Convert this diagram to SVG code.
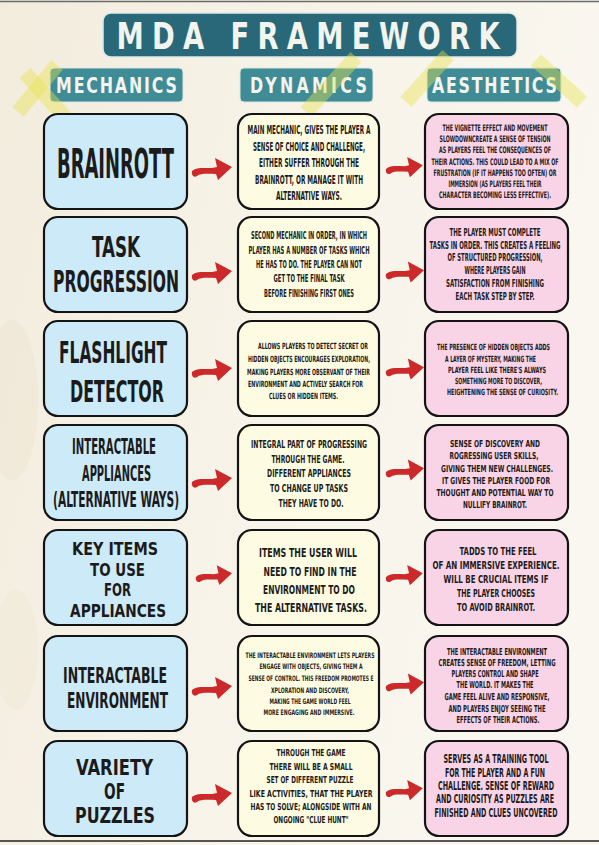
<svg xmlns="http://www.w3.org/2000/svg" width="599" height="845" viewBox="0 0 599 845">
<style>
.mech{fill:#cdeaf8;stroke:#141414;stroke-width:2.2}
.dyn{fill:#fdfce2;stroke:#141414;stroke-width:2.2}
.aes{fill:#f9d3e6;stroke:#141414;stroke-width:2.2}
.hdr{fill:#3f8c96;stroke:#d9e6e4;stroke-width:1}
text{font-family:"DejaVu Sans Condensed","DejaVu Sans","Liberation Sans",sans-serif;font-weight:bold;fill:#1b1b1b}
.c{text-anchor:middle}
.l{text-anchor:start}
.ht{fill:#f3f4ee;text-anchor:middle}
.arr{fill:#cc2a2a}
.ylw{stroke:#e6e24c;stroke-opacity:0.42;stroke-width:15;fill:none}
</style>
<defs>
<linearGradient id="paper" x1="0" y1="0" x2="1" y2="0.3">
<stop offset="0" stop-color="#f2ecdd"/>
<stop offset="0.5" stop-color="#f7f3e8"/>
<stop offset="1" stop-color="#faf7f0"/>
</linearGradient>
<path id="arrow" class="arr" d="M0,1 C4,-3 12,-2 20,-2 L25,-3 L23,-12 L40,-3 L26,10 L24,4 C16,4 9,3 5,6 C2,8 -1,5 0,1 Z"/>
</defs>
<rect x="0" y="0" width="599" height="845" fill="url(#paper)"/>
<ellipse cx="12" cy="400" rx="26" ry="80" fill="#e6dcc4" opacity="0.25"/>
<ellipse cx="16" cy="650" rx="22" ry="60" fill="#e6dcc4" opacity="0.18"/>
<line x1="0" y1="1.5" x2="599" y2="1.5" stroke="#6a6a6a" stroke-width="1.5"/>
<line x1="0" y1="841" x2="599" y2="841" stroke="#222" stroke-width="1.5"/>

<g id="title">
<rect x="103" y="13" width="414" height="44" rx="8" fill="#296878" stroke="#dfe9e7" stroke-width="1.5"/>
<g transform="translate(308,0) scale(0.8,1)"><text class="ht" x="0" y="49" font-size="38" textLength="479" lengthAdjust="spacing">MDA FRAMEWORK</text></g>
</g>
<g id="header-mechanics">
<rect class="hdr" x="50" y="68" width="133" height="34" rx="4"/>
<g transform="translate(116.5,0) scale(0.8,1)"><text class="ht" x="0" y="93" font-size="22" textLength="151" lengthAdjust="spacing">MECHANICS</text></g>
</g>
<g id="header-dynamics">
<rect class="hdr" x="240" y="68" width="133" height="34" rx="4"/>
<g transform="translate(308.5,0) scale(0.8,1)"><text class="ht" x="0" y="93" font-size="22" textLength="146" lengthAdjust="spacing">DYNAMICS</text></g>
</g>
<g id="header-aesthetics">
<rect class="hdr" x="427" y="68" width="134" height="34" rx="4"/>
<g transform="translate(494.5,0) scale(0.8,1)"><text class="ht" x="0" y="93" font-size="22" textLength="156" lengthAdjust="spacing">AESTHETICS</text></g>
</g>
<g id="yellow-marks">
<line class="ylw" x1="18" y1="112" x2="57" y2="65"/>
<line class="ylw" x1="25" y1="73" x2="65" y2="117"/>
<line class="ylw" x1="306" y1="112" x2="356" y2="57"/>
<line class="ylw" x1="406" y1="102" x2="448" y2="55"/>
<line class="ylw" x1="536" y1="60" x2="582" y2="102"/>
</g>

<!-- Row 1 -->
<g id="m1"><rect class="mech" x="44" y="114" width="143" height="95" rx="14"/>
<g transform="translate(115.5,0) scale(0.5,1)"><text class="c" x="0" y="178" font-size="40" textLength="234" lengthAdjust="spacingAndGlyphs">BRAINROTT</text></g></g>
<g id="d1"><rect class="dyn" x="238" y="114" width="141" height="95" rx="14"/>
<g transform="translate(309,0) scale(0.55,1)" font-size="12">
<text class="c" x="0" y="134" textLength="223.6" lengthAdjust="spacingAndGlyphs">MAIN MECHANIC, GIVES THE PLAYER A</text>
<text class="c" x="0" y="151" textLength="203.6" lengthAdjust="spacingAndGlyphs">SENSE OF CHOICE AND CHALLENGE,</text>
<text class="c" x="0" y="167" textLength="181.8" lengthAdjust="spacingAndGlyphs">EITHER SUFFER THROUGH THE</text>
<text class="c" x="0" y="184" textLength="196.4" lengthAdjust="spacingAndGlyphs">BRAINROTT, OR MANAGE IT WITH</text>
<text class="c" x="0" y="200" textLength="120" lengthAdjust="spacingAndGlyphs">ALTERNATIVE WAYS.</text>
</g></g>
<g id="a1"><rect class="aes" x="425" y="114" width="143" height="95" rx="14"/>
<g transform="translate(495,0) scale(0.55,1)" font-size="9">
<text class="c" x="0" y="131" textLength="190.9" lengthAdjust="spacingAndGlyphs">THE VIGNETTE EFFECT AND MOVEMENT</text>
<text class="c" x="0" y="142" textLength="201.8" lengthAdjust="spacingAndGlyphs">SLOWDOWNCREATE A SENSE OF TENSION</text>
<text class="c" x="0" y="153" textLength="203.6" lengthAdjust="spacingAndGlyphs">AS PLAYERS FEEL THE CONSEQUENCES OF</text>
<text class="c" x="0" y="165" textLength="230.9" lengthAdjust="spacingAndGlyphs">THEIR ACTIONS. THIS COULD LEAD TO A MIX OF</text>
<text class="c" x="0" y="176" textLength="223.6" lengthAdjust="spacingAndGlyphs">FRUSTRATION (IF IT HAPPENS TOO OFTEN) OR</text>
<text class="c" x="0" y="187" textLength="169.1" lengthAdjust="spacingAndGlyphs">IMMERSION (AS PLAYERS FEEL THEIR</text>
<text class="c" x="0" y="198" textLength="203.6" lengthAdjust="spacingAndGlyphs">CHARACTER BECOMING LESS EFFECTIVE).</text>
</g></g>

<!-- Row 2 -->
<g id="m2"><rect class="mech" x="44" y="217" width="143" height="95" rx="14"/>
<g transform="translate(116,0) scale(0.5,1)">
<text class="c" x="0" y="257" font-size="29" textLength="96" lengthAdjust="spacingAndGlyphs">TASK</text>
<text class="c" x="0" y="292" font-size="30" textLength="252" lengthAdjust="spacingAndGlyphs">PROGRESSION</text></g></g>
<g id="d2"><rect class="dyn" x="238" y="217" width="141" height="95" rx="14"/>
<g transform="translate(309,0) scale(0.55,1)" font-size="10">
<text class="c" x="0" y="239" textLength="210.9" lengthAdjust="spacingAndGlyphs">SECOND MECHANIC IN ORDER, IN WHICH</text>
<text class="c" x="0" y="254" textLength="220" lengthAdjust="spacingAndGlyphs">PLAYER HAS A NUMBER OF TASKS WHICH</text>
<text class="c" x="0" y="268" textLength="192.7" lengthAdjust="spacingAndGlyphs">HE HAS TO DO. THE PLAYER CAN NOT</text>
<text class="c" x="0" y="282" textLength="129.1" lengthAdjust="spacingAndGlyphs">GET TO THE FINAL TASK</text>
<text class="c" x="0" y="297" textLength="163.6" lengthAdjust="spacingAndGlyphs">BEFORE FINISHING FIRST ONES</text>
</g></g>
<g id="a2"><rect class="aes" x="425" y="217" width="143" height="95" rx="14"/>
<g transform="translate(495,0) scale(0.55,1)" font-size="10">
<text class="c" x="0" y="236" textLength="165.5" lengthAdjust="spacingAndGlyphs">THE PLAYER MUST COMPLETE</text>
<text class="c" x="0" y="249" textLength="238.2" lengthAdjust="spacingAndGlyphs">TASKS IN ORDER. THIS CREATES A FEELING</text>
<text class="c" x="0" y="261" textLength="172.7" lengthAdjust="spacingAndGlyphs">OF STRUCTURED PROGRESSION,</text>
<text class="c" x="0" y="274" textLength="110.9" lengthAdjust="spacingAndGlyphs">WHERE PLAYERS GAIN</text>
<text class="c" x="0" y="287" textLength="178.2" lengthAdjust="spacingAndGlyphs">SATISFACTION FROM FINISHING</text>
<text class="c" x="0" y="300" textLength="143.6" lengthAdjust="spacingAndGlyphs">EACH TASK STEP BY STEP.</text>
</g></g>

<!-- Row 3 -->
<g id="m3"><rect class="mech" x="44" y="321" width="143" height="95" rx="14"/>
<g transform="translate(113,0) scale(0.5,1)"><text class="c" x="0" y="363" font-size="31" textLength="216" lengthAdjust="spacingAndGlyphs">FLASHLIGHT</text></g>
<g transform="translate(117,0) scale(0.5,1)"><text class="c" x="0" y="402" font-size="31" textLength="188" lengthAdjust="spacingAndGlyphs">DETECTOR</text></g></g>
<g id="d3"><rect class="dyn" x="238" y="321" width="141" height="95" rx="14"/>
<g transform="translate(247,0) scale(0.55,1)" font-size="8.5">
<text class="l" x="20" y="349" textLength="200" lengthAdjust="spacingAndGlyphs">ALLOWS PLAYERS TO DETECT SECRET OR</text>
<text class="l" x="1.8" y="362" textLength="221.8" lengthAdjust="spacingAndGlyphs">HIDDEN OBJECTS ENCOURAGES EXPLORATION,</text>
<text class="l" x="0" y="375" textLength="223.6" lengthAdjust="spacingAndGlyphs">MAKING PLAYERS MORE OBSERVANT OF THEIR</text>
<text class="l" x="1.8" y="387" textLength="209.1" lengthAdjust="spacingAndGlyphs">ENVIRONMENT AND ACTIVELY SEARCH FOR</text>
<text class="l" x="40" y="399" textLength="125.5" lengthAdjust="spacingAndGlyphs">CLUES OR HIDDEN ITEMS.</text>
</g></g>
<g id="a3"><rect class="aes" x="425" y="321" width="143" height="95" rx="14"/>
<g transform="translate(437,0) scale(0.55,1)" font-size="8.5">
<text class="l" x="0" y="350" textLength="205.5" lengthAdjust="spacingAndGlyphs">THE PRESENCE OF HIDDEN OBJECTS ADDS</text>
<text class="l" x="14.5" y="362" textLength="165.5" lengthAdjust="spacingAndGlyphs">A LAYER OF MYSTERY, MAKING THE</text>
<text class="l" x="20" y="373" textLength="178.2" lengthAdjust="spacingAndGlyphs">PLAYER FEEL LIKE THERE'S ALWAYS</text>
<text class="l" x="32.7" y="384" textLength="158.2" lengthAdjust="spacingAndGlyphs">SOMETHING MORE TO DISCOVER,</text>
<text class="l" x="18.2" y="395" textLength="201.8" lengthAdjust="spacingAndGlyphs">HEIGHTENING THE SENSE OF CURIOSITY.</text>
</g></g>

<!-- Row 4 -->
<g id="m4"><rect class="mech" x="44" y="425" width="143" height="95" rx="14"/>
<g transform="translate(115,0) scale(0.5,1)" font-size="20.5">
<text class="c" x="-2" y="454" textLength="168" lengthAdjust="spacingAndGlyphs">INTERACTABLE</text>
<text class="c" x="3" y="481" textLength="138" lengthAdjust="spacingAndGlyphs">APPLIANCES</text>
<text class="c" x="2" y="507" textLength="252" lengthAdjust="spacingAndGlyphs">(ALTERNATIVE WAYS)</text></g></g>
<g id="d4"><rect class="dyn" x="238" y="425" width="141" height="95" rx="14"/>
<g transform="translate(309,0) scale(0.55,1)" font-size="10">
<text class="c" x="0" y="448" textLength="210.9" lengthAdjust="spacingAndGlyphs">INTEGRAL PART OF PROGRESSING</text>
<text class="c" x="-1.8" y="463" textLength="132.7" lengthAdjust="spacingAndGlyphs">THROUGH THE GAME.</text>
<text class="c" x="0" y="477" textLength="152.7" lengthAdjust="spacingAndGlyphs">DIFFERENT APPLIANCES</text>
<text class="c" x="0" y="492" textLength="141.8" lengthAdjust="spacingAndGlyphs">TO CHANGE UP TASKS</text>
<text class="c" x="3.6" y="507" textLength="118.2" lengthAdjust="spacingAndGlyphs">THEY HAVE TO DO.</text>
</g></g>
<g id="a4"><rect class="aes" x="425" y="425" width="143" height="95" rx="14"/>
<g transform="translate(495,0) scale(0.55,1)" font-size="9.5">
<text class="c" x="0" y="447" textLength="163.6" lengthAdjust="spacingAndGlyphs">SENSE OF DISCOVERY AND</text>
<text class="c" x="-1.8" y="459" textLength="161.8" lengthAdjust="spacingAndGlyphs">ROGRESSING USER SKILLS,</text>
<text class="c" x="3.6" y="472" textLength="203.6" lengthAdjust="spacingAndGlyphs">GIVING THEM NEW CHALLENGES.</text>
<text class="c" x="1.8" y="484" textLength="196.4" lengthAdjust="spacingAndGlyphs">IT GIVES THE PLAYER FOOD FOR</text>
<text class="c" x="0" y="496" textLength="212.7" lengthAdjust="spacingAndGlyphs">THOUGHT AND POTENTIAL WAY TO</text>
<text class="c" x="0" y="508" textLength="116.4" lengthAdjust="spacingAndGlyphs">NULLIFY BRAINROT.</text>
</g></g>

<!-- Row 5 -->
<g id="m5"><rect class="mech" x="44" y="530" width="143" height="95" rx="14"/>
<g transform="translate(116,0) scale(0.75,1)" font-size="17.5">
<text class="c" x="-1.3" y="555" textLength="114.7" lengthAdjust="spacingAndGlyphs">KEY ITEMS</text>
<text class="c" x="2" y="576" textLength="73.3" lengthAdjust="spacingAndGlyphs">TO USE</text>
<text class="c" x="2" y="596" textLength="36" lengthAdjust="spacingAndGlyphs">FOR</text>
<text class="c" x="2.7" y="617" textLength="128" lengthAdjust="spacingAndGlyphs">APPLIANCES</text></g></g>
<g id="d5"><rect class="dyn" x="238" y="530" width="141" height="95" rx="14"/>
<g transform="translate(309,0) scale(0.55,1)" font-size="12.5">
<text class="c" x="-1.8" y="557" textLength="178.2" lengthAdjust="spacingAndGlyphs">ITEMS THE USER WILL</text>
<text class="c" x="1.8" y="576" textLength="169.1" lengthAdjust="spacingAndGlyphs">NEED TO FIND IN THE</text>
<text class="c" x="0" y="594" textLength="167.3" lengthAdjust="spacingAndGlyphs">ENVIRONMENT TO DO</text>
<text class="c" x="3.6" y="612" textLength="203.6" lengthAdjust="spacingAndGlyphs">THE ALTERNATIVE TASKS.</text>
</g></g>
<g id="a5"><rect class="aes" x="425" y="530" width="143" height="95" rx="14"/>
<g transform="translate(496,0) scale(0.55,1)" font-size="10">
<text class="c" x="3.6" y="555" textLength="140" lengthAdjust="spacingAndGlyphs">TADDS TO THE FEEL</text>
<text class="c" x="0" y="569" textLength="230.9" lengthAdjust="spacingAndGlyphs">OF AN IMMERSIVE EXPERIENCE.</text>
<text class="c" x="0" y="583" textLength="190.9" lengthAdjust="spacingAndGlyphs">WILL BE CRUCIAL ITEMS IF</text>
<text class="c" x="0" y="597" textLength="141.8" lengthAdjust="spacingAndGlyphs">THE PLAYER CHOOSES</text>
<text class="c" x="0" y="611" textLength="141.8" lengthAdjust="spacingAndGlyphs">TO AVOID BRAINROT.</text>
</g></g>

<!-- Row 6 -->
<g id="m6"><rect class="mech" x="44" y="636" width="143" height="95" rx="14"/>
<g transform="translate(116,0) scale(0.5,1)" font-size="21">
<text class="c" x="-2" y="683" textLength="208" lengthAdjust="spacingAndGlyphs">INTERACTABLE</text>
<text class="c" x="3" y="708" textLength="202" lengthAdjust="spacingAndGlyphs">ENVIRONMENT</text></g></g>
<g id="d6"><rect class="dyn" x="238" y="636" width="141" height="95" rx="14"/>
<g transform="translate(310,0) scale(0.55,1)" font-size="7.5">
<text class="c" x="0" y="658" textLength="234.5" lengthAdjust="spacingAndGlyphs">THE INTERACTABLE ENVIRONMENT LETS PLAYERS</text>
<text class="c" x="1.8" y="669" textLength="187.3" lengthAdjust="spacingAndGlyphs">ENGAGE WITH OBJECTS, GIVING THEM A</text>
<text class="c" x="1.8" y="681" textLength="227.3" lengthAdjust="spacingAndGlyphs">SENSE OF CONTROL. THIS FREEDOM PROMOTES E</text>
<text class="c" x="0" y="693" textLength="141.8" lengthAdjust="spacingAndGlyphs">XPLORATION AND DISCOVERY,</text>
<text class="c" x="0" y="704" textLength="147.3" lengthAdjust="spacingAndGlyphs">MAKING THE GAME WORLD FEEL</text>
<text class="c" x="-1.8" y="715" textLength="165.5" lengthAdjust="spacingAndGlyphs">MORE ENGAGING AND IMMERSIVE.</text>
</g></g>
<g id="a6"><rect class="aes" x="425" y="636" width="143" height="95" rx="14"/>
<g transform="translate(497,0) scale(0.55,1)" font-size="9.5">
<text class="c" x="0" y="655" textLength="181.8" lengthAdjust="spacingAndGlyphs">THE INTERACTABLE ENVIRONMENT</text>
<text class="c" x="0" y="666" textLength="212.7" lengthAdjust="spacingAndGlyphs">CREATES SENSE OF FREEDOM, LETTING</text>
<text class="c" x="-3.6" y="677" textLength="158.2" lengthAdjust="spacingAndGlyphs">PLAYERS CONTROL AND SHAPE</text>
<text class="c" x="-3.6" y="688" textLength="140" lengthAdjust="spacingAndGlyphs">THE WORLD. IT MAKES THE</text>
<text class="c" x="0" y="700" textLength="190.9" lengthAdjust="spacingAndGlyphs">GAME FEEL ALIVE AND RESPONSIVE,</text>
<text class="c" x="0" y="712" textLength="176.4" lengthAdjust="spacingAndGlyphs">AND PLAYERS ENJOY SEEING THE</text>
<text class="c" x="1.8" y="723" textLength="150.9" lengthAdjust="spacingAndGlyphs">EFFECTS OF THEIR ACTIONS.</text>
</g></g>

<!-- Row 7 -->
<g id="m7"><rect class="mech" x="44" y="741" width="143" height="95" rx="14"/>
<g transform="translate(114.5,0) scale(0.75,1)" font-size="20.5">
<text class="c" x="0" y="775" textLength="102.7" lengthAdjust="spacingAndGlyphs">VARIETY</text>
<text class="c" x="0" y="799" textLength="28" lengthAdjust="spacingAndGlyphs">OF</text>
<text class="c" x="0.7" y="823" textLength="106.7" lengthAdjust="spacingAndGlyphs">PUZZLES</text></g></g>
<g id="d7"><rect class="dyn" x="238" y="741" width="141" height="95" rx="14"/>
<g transform="translate(311,0) scale(0.55,1)" font-size="9.5">
<text class="c" x="0" y="756" textLength="125.5" lengthAdjust="spacingAndGlyphs">THROUGH THE GAME</text>
<text class="c" x="0" y="770" textLength="150.9" lengthAdjust="spacingAndGlyphs">THERE WILL BE A SMALL</text>
<text class="c" x="-1.8" y="783" textLength="158.2" lengthAdjust="spacingAndGlyphs">SET OF DIFFERENT PUZZLE</text>
<text class="c" x="0" y="797" textLength="223.6" lengthAdjust="spacingAndGlyphs">LIKE ACTIVITIES, THAT THE PLAYER</text>
<text class="c" x="0" y="810" textLength="220" lengthAdjust="spacingAndGlyphs">HAS TO SOLVE; ALONGSIDE WITH AN</text>
<text class="c" x="0" y="823" textLength="136.4" lengthAdjust="spacingAndGlyphs">ONGOING "CLUE HUNT"</text>
</g></g>
<g id="a7"><rect class="aes" x="425" y="741" width="143" height="95" rx="14"/>
<g transform="translate(496,0) scale(0.55,1)" font-size="11.5">
<text class="c" x="0" y="763" textLength="190.9" lengthAdjust="spacingAndGlyphs">SERVES AS A TRAINING TOOL</text>
<text class="c" x="-1.8" y="777" textLength="181.8" lengthAdjust="spacingAndGlyphs">FOR THE PLAYER AND A FUN</text>
<text class="c" x="0" y="790" textLength="210.9" lengthAdjust="spacingAndGlyphs">CHALLENGE. SENSE OF REWARD</text>
<text class="c" x="-1.8" y="803" textLength="214.5" lengthAdjust="spacingAndGlyphs">AND CURIOSITY AS PUZZLES ARE</text>
<text class="c" x="0" y="817" textLength="223.6" lengthAdjust="spacingAndGlyphs">FINISHED AND CLUES UNCOVERED</text>
</g></g>

<g id="connectors">
<use href="#arrow" transform="translate(192,170)"/>
<use href="#arrow" transform="translate(192,274)"/>
<use href="#arrow" transform="translate(192,371)"/>
<use href="#arrow" transform="translate(192,481)"/>
<use href="#arrow" transform="translate(196,576) scale(0.9)"/>
<use href="#arrow" transform="translate(192,689)"/>
<use href="#arrow" transform="translate(192,796)"/>
<use href="#arrow" transform="translate(386,168) scale(0.92)"/>
<use href="#arrow" transform="translate(386,273) scale(0.95)"/>
<use href="#arrow" transform="translate(386,370) scale(0.95)"/>
<use href="#arrow" transform="translate(386,471) scale(0.95)"/>
<use href="#arrow" transform="translate(386,576) scale(0.92)"/>
<use href="#arrow" transform="translate(386,685) scale(0.95)"/>
<use href="#arrow" transform="translate(386,791) scale(0.92)"/>
</g>
</svg>
